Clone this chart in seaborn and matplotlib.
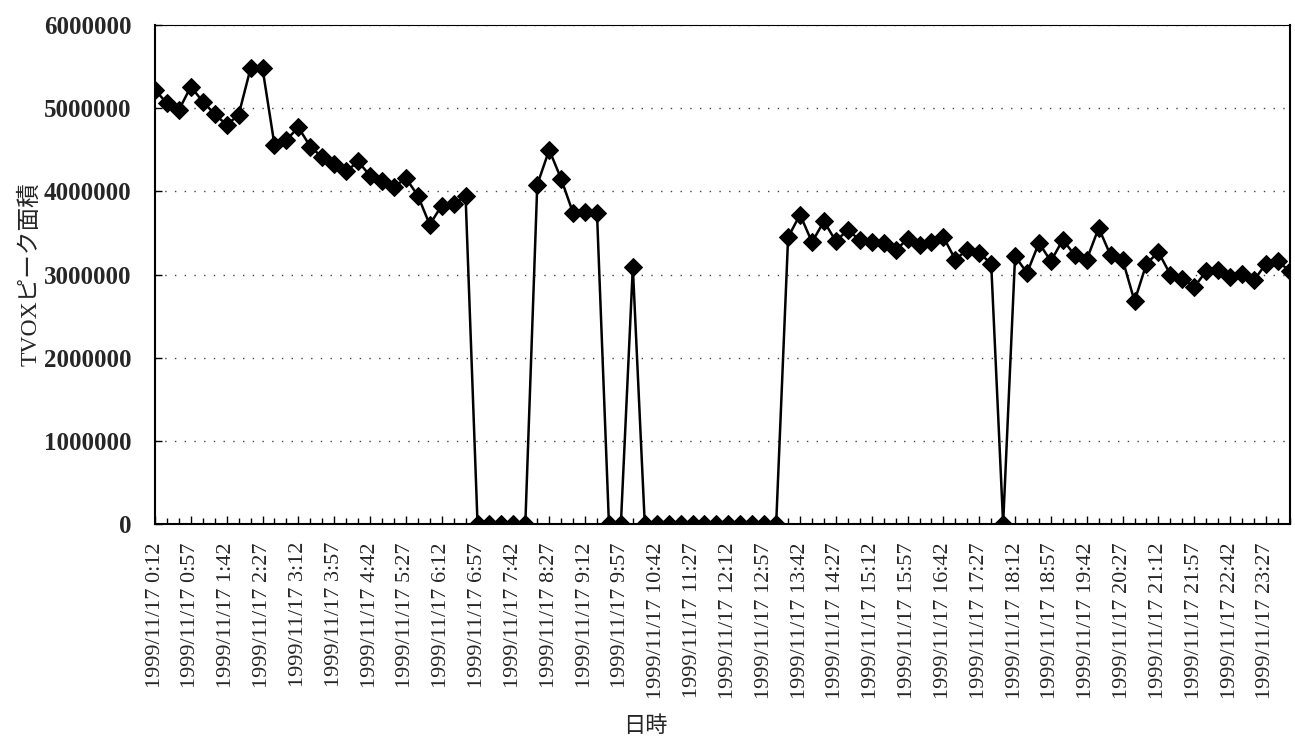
import matplotlib
matplotlib.use("Agg")
import matplotlib.pyplot as plt
import seaborn as sns
import numpy as np
import pandas as pd

# ---- data ----
start_minutes = 12  # 0:12
step_minutes = 15
values = [
    5220000, 5060000, 4980000, 5260000, 5080000, 4930000, 4800000, 4920000,
    5480000, 5480000, 4560000, 4620000, 4770000, 4540000, 4410000, 4330000,
    4240000, 4360000, 4190000, 4120000, 4050000, 4160000, 3950000, 3600000,
    3830000, 3850000, 3940000, 0, 0, 0, 0, 0,
    4080000, 4500000, 4150000, 3740000, 3750000, 3740000, 0, 0,
    3090000, 0, 0, 0, 0, 0, 0, 0,
    0, 0, 0, 0, 0, 3450000, 3720000, 3390000,
    3640000, 3400000, 3540000, 3410000, 3390000, 3380000, 3290000, 3430000,
    3360000, 3390000, 3450000, 3180000, 3300000, 3260000, 3130000, 0,
    3220000, 3020000, 3380000, 3160000, 3420000, 3230000, 3180000, 3560000,
    3230000, 3180000, 2680000, 3130000, 3270000, 3000000, 2950000, 2850000,
    3040000, 3060000, 2970000, 3010000, 2930000, 3130000, 3160000, 3040000,
]
labels = []
for i in range(len(values)):
    m = start_minutes + i * step_minutes
    labels.append(f"1999/11/17 {m // 60}:{m % 60:02d}")
y_ticks = [0, 1000000, 2000000, 3000000, 4000000, 5000000, 6000000]
x_label = "日時"
y_label = "TVOXピーク面積"

df = pd.DataFrame({"idx": np.arange(len(values)), "value": values})

sns.set_theme(style="white")
plt.rcParams['font.family'] = ['Liberation Serif', 'Noto Sans CJK JP', 'DejaVu Sans']

fig = plt.figure(figsize=(12.95, 7.39), dpi=100)
ax = fig.add_axes([0.1197, 0.291, 0.8763, 0.675])

sns.lineplot(data=df, x="idx", y="value", ax=ax, color="black", linewidth=1.8,
             marker="D", markersize=9, markeredgecolor="black", markerfacecolor="black")

ax.set_xlim(0, len(values) - 1)
ax.set_ylim(0, 6000000)
ax.set_yticks(y_ticks)
ax.set_yticklabels([str(v) for v in y_ticks], fontsize=18, fontweight="bold")
tick_pos = list(range(0, len(values), 3))
ax.set_xticks(tick_pos)
ax.set_xticklabels([labels[i] for i in tick_pos], rotation=90, fontsize=16)
ax.set_xticks(range(len(values)), minor=True)

ax.yaxis.grid(True, linestyle=(0, (1, 6)), color="#444444", linewidth=1.0)
ax.xaxis.grid(False)

ax.tick_params(axis="x", which="major", direction="in", length=6, width=1, color="black", pad=13, bottom=True)
ax.tick_params(axis="x", which="minor", direction="in", length=4, width=1, color="black", bottom=True)
ax.tick_params(axis="y", which="major", direction="in", length=5, width=1, color="black", pad=17, left=True)

for side in ["left", "bottom", "right", "top"]:
    ax.spines[side].set_visible(True)
    ax.spines[side].set_color("black")
ax.spines["left"].set_linewidth(1.5)
ax.spines["bottom"].set_linewidth(1.5)
ax.spines["right"].set_linewidth(1.5)
ax.spines["top"].set_linewidth(0.8)

ax.set_xlabel(x_label, fontsize=16, labelpad=0)
ax.xaxis.set_label_coords(0.432, -0.385)
ax.set_ylabel(y_label, fontsize=17)
ax.yaxis.set_label_coords(-0.1, 0.5)

fig.savefig("out.png", dpi=100)
